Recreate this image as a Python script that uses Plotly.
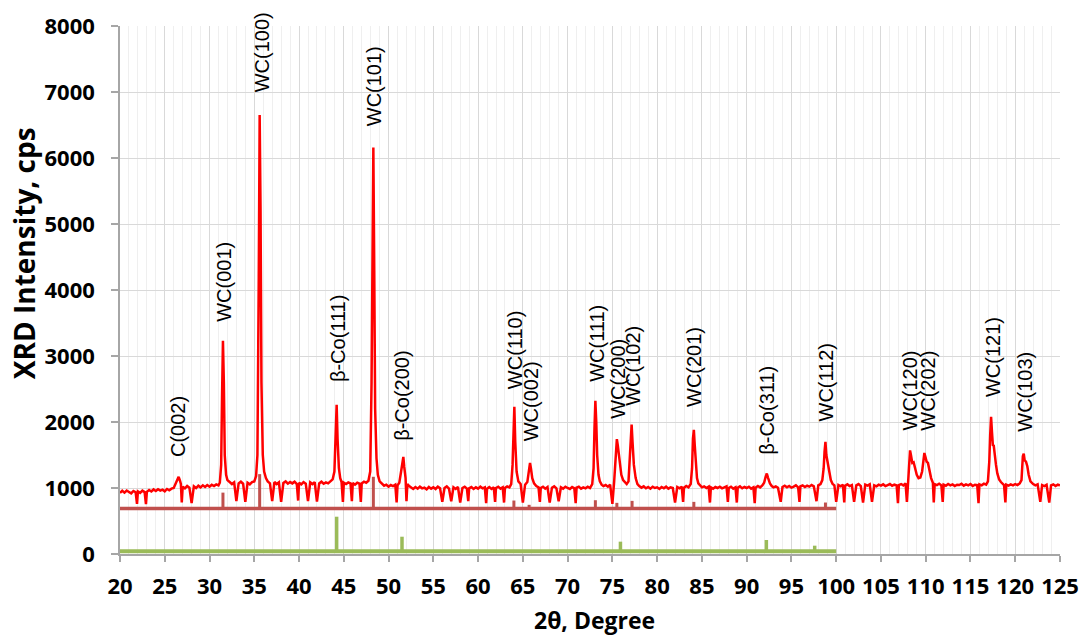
import plotly.graph_objects as go

tth = [
    20.0, 20.25, 20.5, 20.75, 21.0, 21.25, 21.5, 21.75, 21.9, 22.0, 22.25, 22.5, 22.75, 22.9, 23.0, 23.25, 23.5, 23.75, 24.0, 24.25, 24.5, 24.75, 25.0, 25.25, 25.5, 25.75,
    26.0, 26.15, 26.3, 26.45, 26.55, 26.7, 26.8, 26.9, 27.0, 27.25, 27.5, 27.75, 28.0, 28.25, 28.5, 28.75, 29.0, 29.25, 29.5, 29.75, 30.0, 30.25, 30.5, 30.75, 31.0,
    31.15, 31.3, 31.4, 31.5, 31.6, 31.7, 31.85, 32.0, 32.25, 32.5, 32.75, 33.0, 33.25, 33.5, 33.75, 34.0, 34.25, 34.5, 34.75, 35.0, 35.2,
    35.35, 35.5, 35.6, 35.7, 35.8, 35.95, 36.1, 36.3, 36.5, 36.75, 37.0, 37.25, 37.5, 37.75, 38.0, 38.25, 38.5, 38.75, 39.0, 39.25, 39.5, 39.75, 39.9, 40.0, 40.25, 40.5, 40.75, 41.0, 41.25, 41.5, 41.75, 42.0, 42.25, 42.5, 42.75, 43.0, 43.25, 43.5, 43.75,
    43.95, 44.1, 44.2, 44.3, 44.45, 44.6, 44.75, 44.9, 45.0, 45.25, 45.5, 45.75, 45.9, 46.0, 46.25, 46.5, 46.75, 46.9, 47.0, 47.25, 47.5, 47.75, 47.95,
    48.1, 48.2, 48.3, 48.4, 48.5, 48.65, 48.8, 49.0, 49.25, 49.5, 49.75, 50.0, 50.25, 50.5, 50.75, 50.9, 51.0, 51.2, 51.4, 51.55, 51.65, 51.75, 51.9, 52.0, 52.1, 52.3,
    52.5, 52.75, 53.0, 53.25, 53.5, 53.75, 54.0, 54.25, 54.5, 54.75, 55.0, 55.25, 55.5, 55.75, 56.0, 56.25, 56.5, 56.75, 57.0, 57.25, 57.5, 57.75, 58.0, 58.25, 58.5, 58.75, 58.9, 59.0, 59.25, 59.5, 59.75, 60.0, 60.25, 60.5, 60.75, 60.9, 61.0, 61.25, 61.5, 61.75, 61.9, 62.0, 62.25, 62.5, 62.75, 62.9, 63.0, 63.25, 63.5, 63.7,
    63.85, 63.95, 64.05, 64.15, 64.3, 64.5, 64.75, 65.0, 65.25, 65.5, 65.65, 65.8, 65.9, 66.05, 66.25, 66.5, 66.75, 66.9, 67.0, 67.25, 67.5, 67.75, 68.0, 68.25, 68.5, 68.75, 69.0, 69.25, 69.5, 69.75, 70.0, 70.25, 70.5, 70.75, 70.9, 71.0, 71.25, 71.5, 71.75, 72.0, 72.25, 72.5, 72.75,
    72.9, 73.0, 73.1, 73.2, 73.3, 73.45, 73.6, 73.8, 74.0, 74.25, 74.5, 74.75, 75.0, 75.2, 75.35, 75.5, 75.6, 75.7, 75.85, 76.0, 76.2, 76.4, 76.6, 76.8, 76.95, 77.05, 77.15, 77.25, 77.4, 77.6, 77.8, 78.0,
    78.25, 78.5, 78.75, 79.0, 79.25, 79.5, 79.75, 80.0, 80.25, 80.5, 80.75, 81.0, 81.25, 81.5, 81.75, 82.0, 82.25, 82.5, 82.75, 82.9, 83.0, 83.25, 83.5, 83.75,
    83.9, 84.0, 84.1, 84.2, 84.3, 84.45, 84.6, 84.8, 85.0, 85.25, 85.5, 85.75, 85.9, 86.0, 86.25, 86.5, 86.75, 87.0, 87.25, 87.5, 87.75, 87.9, 88.0, 88.25, 88.5, 88.75, 88.9, 89.0, 89.25, 89.5, 89.75, 90.0, 90.25, 90.5, 90.75, 90.9, 91.0, 91.25, 91.5, 91.75, 91.95, 92.1, 92.25, 92.4, 92.6, 92.8, 93.0, 93.25, 93.5, 93.8, 94.0, 94.25, 94.5, 94.75, 95.0, 95.25, 95.5, 95.75, 95.9, 96.0, 96.25, 96.5, 96.75, 97.0, 97.25, 97.5, 97.8, 98.0, 98.25, 98.45,
    98.6, 98.7, 98.8, 98.9, 99.0, 99.1, 99.25, 99.4, 99.6, 99.8, 100.0, 100.25, 100.5, 100.75, 100.9, 101.0, 101.25, 101.5, 101.75, 102.0, 102.25, 102.5, 102.75, 103.0, 103.25, 103.5, 103.75, 104.0, 104.25, 104.5, 104.75, 105.0, 105.25, 105.5, 105.75, 106.0, 106.25, 106.5, 106.75, 106.9, 107.0, 107.25, 107.5, 107.75, 107.9, 108.05,
    108.15, 108.25, 108.35, 108.5, 108.65, 108.8, 109.0, 109.2, 109.4, 109.6, 109.75, 109.85, 109.95, 110.1, 110.25, 110.4, 110.6, 110.8, 110.9, 111.0, 111.25, 111.5, 111.75, 111.9, 112.0, 112.25, 112.5, 112.75, 113.0, 113.25, 113.5, 113.75, 114.0, 114.25, 114.5, 114.75, 115.0, 115.25, 115.5, 115.75, 115.9, 116.0, 116.25, 116.5, 116.75, 116.95,
    117.1, 117.2, 117.3, 117.4, 117.5, 117.6, 117.7, 117.85, 118.0, 118.2, 118.4, 118.6, 118.75, 118.9, 119.0, 119.25, 119.5, 119.75, 120.0, 120.25, 120.5, 120.7,
    120.75, 120.85, 120.95, 121.05, 121.2, 121.35, 121.5, 121.7, 122.0, 122.25, 122.5, 122.8, 123.0, 123.25, 123.5, 123.8, 124.0, 124.25, 124.5, 124.75, 125.0,
]
cps = [
    925, 958, 930, 962, 940, 918, 955, 935, 760, 948, 926, 960, 938, 755, 942, 970, 948, 978, 955, 982, 960, 975, 950, 985, 965, 990,
    1000, 1050, 1100, 1150, 1170, 1110, 1060, 780, 1020, 995, 1030, 1005, 770, 1025, 1000, 1035, 1010, 1040, 1015, 1045, 1020, 1050, 1030, 1055, 1040,
    1080, 1350, 2400, 3230, 2600, 1500, 1200, 1120, 1090, 1060, 1085, 800, 1070, 1095, 1065, 790, 1080, 1055, 1090, 1100, 1180,
    1500, 4200, 6650, 5200, 2600, 1500, 1250, 1150, 1100, 1070, 800, 1090, 1060, 1085, 790, 1075, 1100, 1065, 1090, 1070, 1095, 1060, 810, 1080, 1055, 1090, 1065, 800, 1085, 1060, 1090, 795, 1070, 1095, 1065, 1085, 1070, 1100, 1130,
    1250, 1800, 2260, 1750, 1300, 1150, 1090, 790, 1080, 1060, 1085, 1070, 800, 1075, 1050, 1080, 1065, 790, 1070, 1095, 1080, 1110, 1250,
    2600, 4800, 6160, 4300, 2200, 1450, 1200, 1100, 1060, 1035, 1050, 1020, 1045, 1030, 1050, 780, 1040, 1080, 1250, 1440, 1470, 1320, 1150, 800, 1060, 1030,
    1010, 985, 1015, 990, 1020, 995, 1005, 980, 1015, 990, 1010, 985, 1020, 995, 790, 1000, 1025, 990, 800, 1010, 985, 1015, 780, 1000, 1020, 990, 800, 995, 1015, 985, 1010, 990, 1020, 995, 1010, 770, 990, 1015, 985, 1010, 790, 1000, 1020, 990, 1010, 780, 1000, 1025, 1010, 1060,
    1350, 2000, 2230, 1700, 1250, 1100, 1060, 780, 1050, 1090, 1250, 1380, 1300, 1150, 1070, 1030, 1010, 790, 1000, 1020, 990, 1015, 780, 1005, 1025, 995, 800, 1010, 990, 1020, 1000, 985, 1015, 995, 770, 1005, 1020, 990, 1010, 995, 1020, 1000, 1060,
    1300, 1900, 2320, 2000, 1500, 1200, 1100, 1050, 1030, 1045, 1020, 1050, 760, 1100, 1400, 1740, 1650, 1550, 1350, 1200, 1120, 1080, 1060, 1100, 1450, 1850, 1960, 1700, 1350, 1150, 1060, 1030,
    1005, 1025, 995, 1015, 990, 1020, 1000, 1010, 985, 1015, 995, 1020, 990, 1010, 1000, 780, 1015, 995, 1020, 790, 1005, 1030, 1010, 1060,
    1300, 1750, 1880, 1650, 1350, 1150, 1070, 1030, 1010, 1025, 1000, 1020, 780, 1010, 990, 1015, 1000, 1020, 995, 1010, 1025, 790, 1000, 1020, 990, 1010, 780, 1005, 1025, 995, 1015, 1000, 1020, 990, 1010, 770, 1005, 1030, 1010, 1040, 1080, 1160, 1220, 1150, 1070, 1030, 1010, 1025, 1005, 790, 1015, 1035, 1010, 1030, 1005, 1020, 1040, 1010, 790, 1025, 1040, 1015, 1035, 1020, 1045, 1025, 800, 1040, 1060, 1120,
    1300, 1550, 1700, 1500, 1420, 1400, 1250, 1120, 1060, 1040, 790, 1045, 1025, 1050, 780, 1035, 1055, 1030, 1045, 790, 1040, 1060, 1030, 780, 1050, 1035, 1055, 790, 1040, 1025, 1050, 1035, 1055, 1030, 1045, 1060, 1035, 1050, 1040, 770, 1045, 1060, 1040, 1070, 790, 1150,
    1400, 1570, 1500, 1380, 1390, 1300, 1200, 1150, 1160, 1250, 1400, 1530, 1480, 1400, 1380, 1250, 1150, 1080, 780, 1060, 1045, 1065, 1040, 790, 1050, 1035, 1060, 1040, 1055, 1030, 1050, 1045, 1065, 1035, 1055, 1040, 1060, 1030, 1050, 1045, 770, 1055, 1040, 1065, 1050, 1100,
    1400, 1800, 2080, 1850, 1650, 1640, 1500, 1350, 1220, 1130, 1090, 1060, 1045, 780, 1050, 1035, 1055, 1040, 1060, 1045, 1070, 1120,
    1300, 1480, 1520, 1420, 1400, 1330, 1200, 1100, 1060, 1040, 1055, 790, 1045, 1030, 1050, 780, 1040, 1055, 1030, 1050, 1040,
]

# ---------------- reference stick patterns ----------------
wc_ref_x = [31.5, 35.6, 48.3, 64.0, 65.7, 73.1, 75.5, 77.2, 84.1, 98.8]
wc_ref_top = [930, 1210, 1170, 810, 745, 815, 775, 805, 790, 780]
wc_ref_base = 690
co_ref_x = [44.2, 51.5, 75.9, 92.2, 97.6]
co_ref_top = [565, 262, 187, 212, 126]
co_ref_base = 40
ref_span = [20, 100]

# ---------------- peak labels ----------------
peak_labels = ["C(002)", "WC(001)", "WC(100)", "β-Co(111)", "WC(101)", "β-Co(200)",
               "WC(110)", "WC(002)", "WC(111)", "WC(200)", "WC(102)", "WC(201)",
               "β-Co(311)", "WC(112)", "WC(120)", "WC(202)", "WC(121)", "WC(103)"]
label_x = [26.5, 31.6, 35.9, 44.3, 48.4, 51.5, 64.2, 66.0, 73.2, 75.6, 77.3, 84.1,
           92.3, 98.9, 108.2, 110.3, 117.5, 121.0]
label_y = [1450, 3500, 6985, 2590, 6470, 1700, 2485, 1690, 2590, 2030, 2230, 2210,
           1485, 1990, 1850, 1860, 2360, 1840]

x_ticks = list(range(20, 126, 5))
y_ticks = list(range(0, 8001, 1000))

RED = "#FF0000"
WC_COL = "#C0504D"
CO_COL = "#9BBB59"
AXIS_COL = "#A6A6A6"
TICK_FONT = dict(family="Open Sans", size=22, color="black", weight="bold")


def sticks(xs, tops, base):
    sx, sy = [], []
    for x, t in zip(xs, tops):
        sx += [x, x, None]
        sy += [base, t, None]
    return sx, sy


fig = go.Figure()
fig.add_trace(go.Scatter(x=tth, y=cps, mode="lines",
                         line=dict(color=RED, width=2.5), hoverinfo="skip"))

sx, sy = sticks(wc_ref_x, wc_ref_top, wc_ref_base)
fig.add_trace(go.Scatter(x=sx, y=sy, mode="lines", line=dict(color=WC_COL, width=3)))
fig.add_trace(go.Scatter(x=ref_span, y=[wc_ref_base, wc_ref_base], mode="lines",
                         line=dict(color=WC_COL, width=3.5)))
sx, sy = sticks(co_ref_x, co_ref_top, co_ref_base)
fig.add_trace(go.Scatter(x=sx, y=sy, mode="lines", line=dict(color=CO_COL, width=3.5)))
fig.add_trace(go.Scatter(x=ref_span, y=[co_ref_base, co_ref_base], mode="lines",
                         line=dict(color=CO_COL, width=4)))

for t, x, y in zip(peak_labels, label_x, label_y):
    fig.add_annotation(x=x, y=y, text=t, textangle=-90, showarrow=False,
                       xanchor="center", yanchor="bottom", borderpad=0,
                       font=dict(family="Liberation Sans", size=20, color="black"))

fig.add_annotation(xref="paper", yref="paper", x=0.505, y=-0.125, text="2θ, Degree",
                   showarrow=False, xanchor="center", yanchor="middle",
                   font=dict(family="Open Sans", size=23, color="black", weight="bold"))
fig.add_annotation(xref="paper", yref="paper", x=-0.102, y=0.57, text="XRD Intensity, cps",
                   textangle=-90, showarrow=False, xanchor="center", yanchor="middle",
                   font=dict(family="Open Sans", size=28, color="black", weight="bold"))

fig.update_layout(
    width=1082, height=635, autosize=False,
    margin=dict(l=120, r=22, t=26, b=81),
    paper_bgcolor="white", plot_bgcolor="white",
    showlegend=False,
    xaxis=dict(range=[20, 125], tickmode="array", tickvals=x_ticks, automargin=False,
               showgrid=True, gridcolor="#D9D9D9", gridwidth=1,
               minor=dict(dtick=1, tick0=20, showgrid=True, gridcolor="#EFEFEF", gridwidth=1),
               showline=True, linecolor=AXIS_COL, linewidth=1.5,
               ticks="outside", ticklen=6, tickwidth=1.5, tickcolor=AXIS_COL,
               tickfont=TICK_FONT, zeroline=False, ticklabelstandoff=6),
    yaxis=dict(range=[0, 8000], tickmode="array", tickvals=y_ticks, automargin=False,
               showgrid=True, gridcolor="#D9D9D9", gridwidth=1,
               showline=True, linecolor=AXIS_COL, linewidth=1.5,
               ticks="outside", ticklen=7, tickwidth=1.5, tickcolor=AXIS_COL,
               tickfont=TICK_FONT, zeroline=False, ticklabelstandoff=12),
)

fig.write_html("out.html")
